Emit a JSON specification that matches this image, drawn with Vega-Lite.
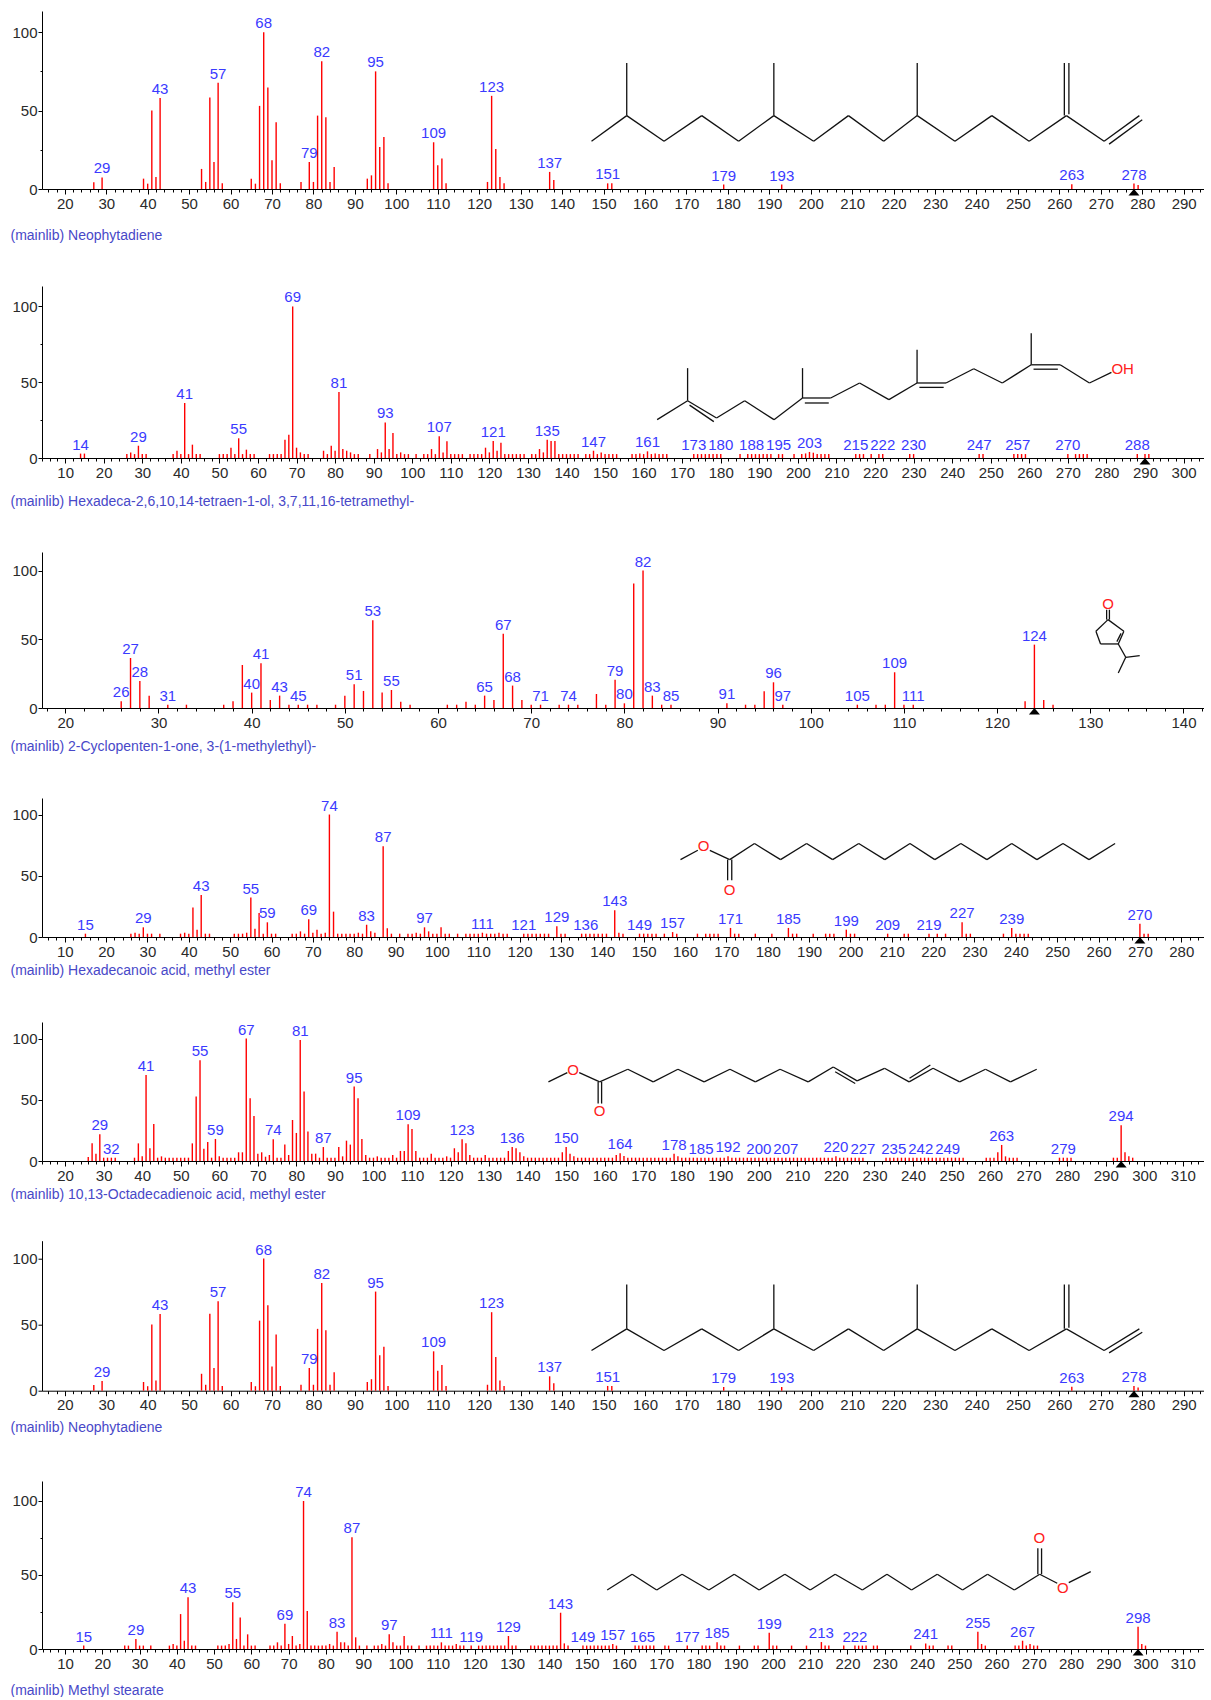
{
"$schema": "https://vega.github.io/schema/vega-lite/v6.json",
"padding": {"left": 10, "top": 11, "right": 0, "bottom": 0},
"datasets": {
"neo": [{"mz":27,"i":4.3},{"mz":29,"i":7.4,"l":1},{"mz":39,"i":6.6},{"mz":40,"i":3.4},{"mz":41,"i":50},{"mz":42,"i":7.7},{"mz":43,"i":58,"l":1},{"mz":53,"i":12.8},{"mz":54,"i":4.5},{"mz":55,"i":58.3},{"mz":56,"i":17.2},{"mz":57,"i":67.7,"l":1},{"mz":58,"i":3.6},{"mz":65,"i":6.6},{"mz":66,"i":3.4},{"mz":67,"i":53},{"mz":68,"i":100,"l":1},{"mz":69,"i":64.7},{"mz":70,"i":18.3},{"mz":71,"i":42.6},{"mz":72,"i":3.6},{"mz":77,"i":4.5},{"mz":79,"i":17.2,"l":1},{"mz":80,"i":4.5},{"mz":81,"i":46.8},{"mz":82,"i":81.5,"l":1},{"mz":83,"i":45.7},{"mz":84,"i":4.5},{"mz":85,"i":14},{"mz":93,"i":6.6},{"mz":94,"i":8.7},{"mz":95,"i":75,"l":1},{"mz":96,"i":26.8},{"mz":97,"i":33.2},{"mz":98,"i":3.6},{"mz":109,"i":29.8,"l":1},{"mz":110,"i":15.1},{"mz":111,"i":19.4},{"mz":112,"i":3.6},{"mz":122,"i":4.5},{"mz":123,"i":59.4,"l":1},{"mz":124,"i":25.5},{"mz":125,"i":7.7},{"mz":126,"i":3.6},{"mz":137,"i":10.9,"l":1},{"mz":138,"i":5.7},{"mz":151,"i":3.6,"l":1},{"mz":152,"i":3.6},{"mz":179,"i":2.8,"l":1},{"mz":193,"i":2.8,"l":1},{"mz":263,"i":3,"l":1},{"mz":278,"i":3.5,"l":1},{"mz":279,"i":2.5}],
"hex": [{"mz":14,"i":2.9,"l":1},{"mz":15,"i":2.9},{"mz":26,"i":2.6},{"mz":27,"i":3.7},{"mz":28,"i":2.6},{"mz":29,"i":8.1,"l":1},{"mz":30,"i":2.6},{"mz":31,"i":2.6},{"mz":38,"i":2.6},{"mz":39,"i":4.8},{"mz":40,"i":2.6},{"mz":41,"i":36.3,"l":1},{"mz":42,"i":2.6},{"mz":43,"i":8.8},{"mz":44,"i":2.6},{"mz":45,"i":2.6},{"mz":50,"i":2.6},{"mz":51,"i":2.6},{"mz":52,"i":2.6},{"mz":53,"i":6.8},{"mz":54,"i":2.6},{"mz":55,"i":13,"l":1},{"mz":56,"i":2.6},{"mz":57,"i":5.5},{"mz":58,"i":2.6},{"mz":59,"i":2.6},{"mz":63,"i":2.6},{"mz":64,"i":2.6},{"mz":65,"i":2.6},{"mz":66,"i":2.6},{"mz":67,"i":12},{"mz":68,"i":15.4},{"mz":69,"i":100,"l":1},{"mz":70,"i":6.8},{"mz":71,"i":3.7},{"mz":72,"i":2.6},{"mz":73,"i":2.6},{"mz":77,"i":4.8},{"mz":78,"i":2.6},{"mz":79,"i":8.1},{"mz":80,"i":4.8},{"mz":81,"i":43.5,"l":1},{"mz":82,"i":5.9},{"mz":83,"i":4.8},{"mz":84,"i":3.7},{"mz":85,"i":2.6},{"mz":86,"i":2.6},{"mz":89,"i":2.6},{"mz":91,"i":5.9},{"mz":92,"i":3.7},{"mz":93,"i":23.5,"l":1},{"mz":94,"i":5.9},{"mz":95,"i":16.5},{"mz":96,"i":2.6},{"mz":97,"i":3.7},{"mz":98,"i":2.6},{"mz":99,"i":2.6},{"mz":101,"i":2.6},{"mz":103,"i":2.6},{"mz":104,"i":2.6},{"mz":105,"i":5.9},{"mz":106,"i":2.6},{"mz":107,"i":14.3,"l":1},{"mz":108,"i":3.7},{"mz":109,"i":11},{"mz":110,"i":2.6},{"mz":111,"i":2.6},{"mz":112,"i":2.6},{"mz":113,"i":2.6},{"mz":115,"i":2.6},{"mz":116,"i":2.6},{"mz":117,"i":2.6},{"mz":118,"i":2.6},{"mz":119,"i":6.8},{"mz":120,"i":3.7},{"mz":121,"i":11.2,"l":1},{"mz":122,"i":4.8},{"mz":123,"i":10.1},{"mz":124,"i":2.6},{"mz":125,"i":2.6},{"mz":126,"i":2.6},{"mz":127,"i":2.6},{"mz":128,"i":2.6},{"mz":129,"i":2.6},{"mz":131,"i":2.6},{"mz":132,"i":2.6},{"mz":133,"i":5.9},{"mz":134,"i":3.7},{"mz":135,"i":12,"l":1},{"mz":136,"i":11.2},{"mz":137,"i":11.2},{"mz":138,"i":2.6},{"mz":139,"i":2.6},{"mz":140,"i":2.6},{"mz":141,"i":2.6},{"mz":142,"i":2.6},{"mz":143,"i":2.6},{"mz":145,"i":2.6},{"mz":146,"i":2.6},{"mz":147,"i":4.8,"l":1},{"mz":148,"i":2.6},{"mz":149,"i":3.7},{"mz":150,"i":2.6},{"mz":151,"i":2.6},{"mz":152,"i":2.6},{"mz":153,"i":2.6},{"mz":157,"i":2.6},{"mz":158,"i":2.6},{"mz":159,"i":3},{"mz":160,"i":2.6},{"mz":161,"i":4.4,"l":1},{"mz":162,"i":2.6},{"mz":163,"i":3},{"mz":164,"i":2.6},{"mz":165,"i":2.6},{"mz":166,"i":2.6},{"mz":173,"i":2.6,"l":1},{"mz":174,"i":2.6},{"mz":175,"i":2.6},{"mz":176,"i":2.6},{"mz":177,"i":2.6},{"mz":178,"i":2.6},{"mz":179,"i":2.6},{"mz":180,"i":2.6,"l":1},{"mz":185,"i":2.6},{"mz":187,"i":2.6},{"mz":188,"i":2.6,"l":1},{"mz":189,"i":2.6},{"mz":190,"i":2.6},{"mz":191,"i":2.6},{"mz":192,"i":2.6},{"mz":193,"i":2.6},{"mz":195,"i":2.6,"l":1},{"mz":196,"i":2.6},{"mz":199,"i":2.6},{"mz":201,"i":2.6},{"mz":202,"i":3},{"mz":203,"i":4,"l":1},{"mz":204,"i":3.5},{"mz":205,"i":2.6},{"mz":206,"i":2.6},{"mz":207,"i":2.6},{"mz":208,"i":2.6},{"mz":215,"i":2.6,"l":1},{"mz":216,"i":2.6},{"mz":217,"i":2.6},{"mz":219,"i":2.6},{"mz":221,"i":2.6},{"mz":222,"i":2.6,"l":1},{"mz":229,"i":2.6},{"mz":230,"i":2.6,"l":1},{"mz":247,"i":2.6,"l":1},{"mz":248,"i":2.6},{"mz":256,"i":2.6},{"mz":257,"i":2.6,"l":1},{"mz":258,"i":2.6},{"mz":259,"i":2.6},{"mz":270,"i":2.6,"l":1},{"mz":272,"i":2.6},{"mz":273,"i":2.6},{"mz":274,"i":2.6},{"mz":275,"i":2.6},{"mz":288,"i":2.6,"l":1},{"mz":290,"i":2.6},{"mz":291,"i":2.6}],
"cyc": [{"mz":26,"i":4.9,"l":1},{"mz":27,"i":36.4,"l":1},{"mz":28,"i":19.7,"l":1},{"mz":29,"i":9},{"mz":31,"i":2.4,"l":1},{"mz":33,"i":2.4},{"mz":37,"i":2.4},{"mz":38,"i":4.9},{"mz":39,"i":31.3},{"mz":40,"i":11.2,"l":1},{"mz":41,"i":32.5,"l":1},{"mz":42,"i":5.8},{"mz":43,"i":9,"l":1},{"mz":44,"i":2.4},{"mz":45,"i":2.4,"l":1},{"mz":46,"i":2.4},{"mz":47,"i":2.4},{"mz":49,"i":2.4},{"mz":50,"i":9},{"mz":51,"i":17.2,"l":1},{"mz":52,"i":12.4},{"mz":53,"i":63.8,"l":1},{"mz":54,"i":11.2},{"mz":55,"i":13.1,"l":1},{"mz":56,"i":4.6},{"mz":57,"i":2.4},{"mz":61,"i":2.4},{"mz":62,"i":2.4},{"mz":63,"i":4.6},{"mz":64,"i":2.4},{"mz":65,"i":9,"l":1},{"mz":66,"i":5.8},{"mz":67,"i":54.1,"l":1},{"mz":68,"i":16.3,"l":1},{"mz":69,"i":5.8},{"mz":70,"i":2.4},{"mz":71,"i":2.4,"l":1},{"mz":73,"i":2.4},{"mz":74,"i":2.4,"l":1},{"mz":75,"i":2.4},{"mz":77,"i":10.2},{"mz":78,"i":2.4},{"mz":79,"i":20.6,"l":1},{"mz":80,"i":3.4,"l":1},{"mz":81,"i":90.5},{"mz":82,"i":100,"l":1},{"mz":83,"i":9,"l":1},{"mz":84,"i":2.4},{"mz":85,"i":2.4,"l":1},{"mz":91,"i":3.4,"l":1},{"mz":93,"i":2.4},{"mz":94,"i":2.4},{"mz":95,"i":12.1},{"mz":96,"i":18.7,"l":1},{"mz":97,"i":2.4,"l":1},{"mz":105,"i":2.4,"l":1},{"mz":107,"i":2.4},{"mz":108,"i":2.4},{"mz":109,"i":26,"l":1},{"mz":110,"i":2.4},{"mz":111,"i":2.4,"l":1},{"mz":123,"i":4.9},{"mz":124,"i":46.1,"l":1},{"mz":125,"i":5.8},{"mz":126,"i":2.4}],
"pal": [{"mz":15,"i":2.7,"l":1},{"mz":26,"i":2.7},{"mz":27,"i":3.5},{"mz":28,"i":2.7},{"mz":29,"i":7.9,"l":1},{"mz":30,"i":2.7},{"mz":31,"i":2.7},{"mz":33,"i":2.7},{"mz":38,"i":2.7},{"mz":39,"i":3.5},{"mz":40,"i":2.7},{"mz":41,"i":24},{"mz":42,"i":6},{"mz":43,"i":34.3,"l":1},{"mz":44,"i":2.7},{"mz":45,"i":2.7},{"mz":51,"i":2.7},{"mz":52,"i":2.7},{"mz":53,"i":2.7},{"mz":54,"i":3.5},{"mz":55,"i":32.2,"l":1},{"mz":56,"i":6.8},{"mz":57,"i":19.6},{"mz":58,"i":2.7},{"mz":59,"i":12,"l":1},{"mz":60,"i":2.7},{"mz":61,"i":2.7},{"mz":65,"i":2.7},{"mz":66,"i":2.7},{"mz":67,"i":4.6},{"mz":68,"i":2.7},{"mz":69,"i":14.4,"l":1},{"mz":70,"i":3.5},{"mz":71,"i":6},{"mz":72,"i":2.7},{"mz":73,"i":3.5},{"mz":74,"i":100,"l":1},{"mz":75,"i":20.7},{"mz":76,"i":2.7},{"mz":77,"i":2.7},{"mz":78,"i":2.7},{"mz":79,"i":2.7},{"mz":80,"i":2.7},{"mz":81,"i":3.5},{"mz":82,"i":2.7},{"mz":83,"i":10,"l":1},{"mz":84,"i":4.6},{"mz":85,"i":3.5},{"mz":87,"i":74.1,"l":1},{"mz":88,"i":7.1},{"mz":89,"i":2.7},{"mz":91,"i":2.7},{"mz":93,"i":2.7},{"mz":94,"i":2.7},{"mz":95,"i":3.5},{"mz":96,"i":2.7},{"mz":97,"i":7.9,"l":1},{"mz":98,"i":4.6},{"mz":99,"i":2.7},{"mz":100,"i":2.7},{"mz":101,"i":7.9},{"mz":102,"i":2.7},{"mz":103,"i":2.7},{"mz":105,"i":2.7},{"mz":107,"i":2.7},{"mz":108,"i":2.7},{"mz":109,"i":2.7},{"mz":110,"i":2.7},{"mz":111,"i":3.5,"l":1},{"mz":112,"i":2.7},{"mz":113,"i":2.7},{"mz":114,"i":2.7},{"mz":115,"i":3.5},{"mz":116,"i":2.7},{"mz":117,"i":2.7},{"mz":121,"i":2.7,"l":1},{"mz":122,"i":2.7},{"mz":123,"i":2.7},{"mz":124,"i":2.7},{"mz":125,"i":2.7},{"mz":126,"i":2.7},{"mz":127,"i":2.7},{"mz":129,"i":8.7,"l":1},{"mz":130,"i":2.7},{"mz":131,"i":2.7},{"mz":135,"i":2.7},{"mz":136,"i":2.7,"l":1},{"mz":137,"i":2.7},{"mz":138,"i":2.7},{"mz":139,"i":2.7},{"mz":140,"i":2.7},{"mz":141,"i":2.7},{"mz":143,"i":21.8,"l":1},{"mz":144,"i":3.5},{"mz":145,"i":2.7},{"mz":149,"i":2.7,"l":1},{"mz":150,"i":2.7},{"mz":151,"i":2.7},{"mz":152,"i":2.7},{"mz":153,"i":2.7},{"mz":155,"i":2.7},{"mz":157,"i":4,"l":1},{"mz":158,"i":2.7},{"mz":163,"i":2.7},{"mz":165,"i":2.7},{"mz":166,"i":2.7},{"mz":167,"i":2.7},{"mz":168,"i":2.7},{"mz":171,"i":7.4,"l":1},{"mz":172,"i":2.7},{"mz":173,"i":2.7},{"mz":177,"i":2.7},{"mz":181,"i":2.7},{"mz":185,"i":7.4,"l":1},{"mz":186,"i":2.7},{"mz":187,"i":2.7},{"mz":191,"i":2.7},{"mz":194,"i":2.7},{"mz":195,"i":2.7},{"mz":196,"i":2.7},{"mz":199,"i":6,"l":1},{"mz":200,"i":2.7},{"mz":201,"i":2.7},{"mz":209,"i":2.7,"l":1},{"mz":213,"i":2.7},{"mz":214,"i":2.7},{"mz":219,"i":2.7,"l":1},{"mz":221,"i":2.7},{"mz":223,"i":2.7},{"mz":227,"i":12,"l":1},{"mz":228,"i":2.7},{"mz":229,"i":2.7},{"mz":237,"i":2.7},{"mz":239,"i":7.4,"l":1},{"mz":240,"i":2.7},{"mz":241,"i":2.7},{"mz":242,"i":2.7},{"mz":243,"i":2.7},{"mz":270,"i":10.9,"l":1},{"mz":271,"i":2.7},{"mz":272,"i":2.7}],
"lin": [{"mz":26,"i":3.3},{"mz":27,"i":14.4},{"mz":28,"i":6},{"mz":29,"i":21.8,"l":1},{"mz":30,"i":2.7},{"mz":31,"i":2.7},{"mz":32,"i":2.7,"l":1},{"mz":33,"i":2.7},{"mz":38,"i":2.7},{"mz":39,"i":14.4},{"mz":40,"i":3.8},{"mz":41,"i":70.3,"l":1},{"mz":42,"i":10.4},{"mz":43,"i":30.2},{"mz":44,"i":2.7},{"mz":45,"i":3.8},{"mz":46,"i":2.7},{"mz":47,"i":2.7},{"mz":48,"i":2.7},{"mz":49,"i":2.7},{"mz":50,"i":2.7},{"mz":51,"i":2.7},{"mz":52,"i":2.7},{"mz":53,"i":14.4},{"mz":54,"i":52.6},{"mz":55,"i":82.3,"l":1},{"mz":56,"i":10.1},{"mz":57,"i":15.5},{"mz":58,"i":2.7},{"mz":59,"i":18,"l":1},{"mz":60,"i":3.8},{"mz":61,"i":2.7},{"mz":62,"i":2.7},{"mz":63,"i":2.7},{"mz":64,"i":2.7},{"mz":65,"i":7.1},{"mz":66,"i":7.1},{"mz":67,"i":100,"l":1},{"mz":68,"i":51.2},{"mz":69,"i":36.8},{"mz":70,"i":6},{"mz":71,"i":7.1},{"mz":72,"i":3.5},{"mz":73,"i":4.9},{"mz":74,"i":17.7,"l":1},{"mz":75,"i":2.7},{"mz":76,"i":2.7},{"mz":77,"i":13.4},{"mz":78,"i":4.9},{"mz":79,"i":33.5},{"mz":80,"i":22.9},{"mz":81,"i":98.9,"l":1},{"mz":82,"i":56.7},{"mz":83,"i":24},{"mz":84,"i":6},{"mz":85,"i":6},{"mz":86,"i":2.7},{"mz":87,"i":11.4,"l":1},{"mz":88,"i":2.7},{"mz":89,"i":2.7},{"mz":90,"i":2.7},{"mz":91,"i":11.4},{"mz":92,"i":3.8},{"mz":93,"i":16.6},{"mz":94,"i":13.4},{"mz":95,"i":60.8,"l":1},{"mz":96,"i":51.2},{"mz":97,"i":18},{"mz":98,"i":4.9},{"mz":99,"i":2.7},{"mz":100,"i":2.7},{"mz":101,"i":3.8},{"mz":102,"i":2.7},{"mz":103,"i":2.7},{"mz":104,"i":2.7},{"mz":105,"i":4.9},{"mz":106,"i":2.7},{"mz":107,"i":8.2},{"mz":108,"i":8.2},{"mz":109,"i":30,"l":1},{"mz":110,"i":26.2},{"mz":111,"i":8.2},{"mz":112,"i":2.7},{"mz":113,"i":2.7},{"mz":114,"i":2.7},{"mz":115,"i":6},{"mz":116,"i":2.7},{"mz":117,"i":2.7},{"mz":118,"i":2.7},{"mz":119,"i":3.8},{"mz":120,"i":2.7},{"mz":121,"i":10.4},{"mz":122,"i":7.1},{"mz":123,"i":17.7,"l":1},{"mz":124,"i":14.4},{"mz":125,"i":4.9},{"mz":126,"i":2.7},{"mz":127,"i":2.7},{"mz":128,"i":2.7},{"mz":129,"i":4.9},{"mz":130,"i":2.7},{"mz":131,"i":2.7},{"mz":132,"i":2.7},{"mz":133,"i":2.7},{"mz":134,"i":2.7},{"mz":135,"i":8.2},{"mz":136,"i":11.4,"l":1},{"mz":137,"i":10.4},{"mz":138,"i":7.1},{"mz":139,"i":3.8},{"mz":140,"i":2.7},{"mz":141,"i":2.7},{"mz":142,"i":2.7},{"mz":143,"i":2.7},{"mz":144,"i":2.7},{"mz":145,"i":2.7},{"mz":146,"i":2.7},{"mz":147,"i":2.7},{"mz":148,"i":2.7},{"mz":149,"i":7.1},{"mz":150,"i":11.4,"l":1},{"mz":151,"i":6},{"mz":152,"i":3.8},{"mz":153,"i":2.7},{"mz":154,"i":2.7},{"mz":155,"i":2.7},{"mz":156,"i":2.7},{"mz":157,"i":2.7},{"mz":158,"i":2.7},{"mz":159,"i":2.7},{"mz":160,"i":2.7},{"mz":161,"i":2.7},{"mz":162,"i":2.7},{"mz":163,"i":4.9},{"mz":164,"i":6.3,"l":1},{"mz":165,"i":4},{"mz":166,"i":2.7},{"mz":167,"i":2.7},{"mz":168,"i":2.7},{"mz":169,"i":2.7},{"mz":170,"i":2.7},{"mz":171,"i":2.7},{"mz":172,"i":2.7},{"mz":173,"i":2.7},{"mz":174,"i":2.7},{"mz":175,"i":2.7},{"mz":176,"i":2.7},{"mz":177,"i":2.7},{"mz":178,"i":6,"l":1},{"mz":179,"i":3.8},{"mz":180,"i":2.7},{"mz":181,"i":2.7},{"mz":182,"i":2.7},{"mz":183,"i":2.7},{"mz":184,"i":2.7},{"mz":185,"i":2.7,"l":1},{"mz":186,"i":2.7},{"mz":187,"i":2.7},{"mz":188,"i":2.7},{"mz":189,"i":2.7},{"mz":190,"i":2.7},{"mz":191,"i":2.7},{"mz":192,"i":3.8,"l":1},{"mz":193,"i":2.7},{"mz":194,"i":2.7},{"mz":195,"i":2.7},{"mz":196,"i":2.7},{"mz":197,"i":2.7},{"mz":198,"i":2.7},{"mz":199,"i":2.7},{"mz":200,"i":2.7,"l":1},{"mz":201,"i":2.7},{"mz":202,"i":2.7},{"mz":203,"i":2.7},{"mz":204,"i":2.7},{"mz":205,"i":2.7},{"mz":206,"i":2.7},{"mz":207,"i":2.7,"l":1},{"mz":208,"i":2.7},{"mz":209,"i":2.7},{"mz":210,"i":2.7},{"mz":211,"i":2.7},{"mz":212,"i":2.7},{"mz":213,"i":2.7},{"mz":214,"i":2.7},{"mz":215,"i":2.7},{"mz":216,"i":2.7},{"mz":217,"i":2.7},{"mz":218,"i":2.7},{"mz":219,"i":2.7},{"mz":220,"i":3.8,"l":1},{"mz":221,"i":2.7},{"mz":222,"i":2.7},{"mz":223,"i":2.7},{"mz":224,"i":2.7},{"mz":225,"i":2.7},{"mz":226,"i":2.7},{"mz":227,"i":2.7,"l":1},{"mz":233,"i":2.7},{"mz":234,"i":2.7},{"mz":235,"i":2.7,"l":1},{"mz":236,"i":2.7},{"mz":237,"i":2.7},{"mz":238,"i":2.7},{"mz":239,"i":2.7},{"mz":240,"i":2.7},{"mz":241,"i":2.7},{"mz":242,"i":2.7,"l":1},{"mz":243,"i":2.7},{"mz":244,"i":2.7},{"mz":245,"i":2.7},{"mz":246,"i":2.7},{"mz":247,"i":2.7},{"mz":248,"i":2.7},{"mz":249,"i":2.7,"l":1},{"mz":250,"i":2.7},{"mz":251,"i":2.7},{"mz":252,"i":2.7},{"mz":253,"i":2.7},{"mz":259,"i":2.7},{"mz":260,"i":2.7},{"mz":261,"i":2.7},{"mz":262,"i":7.1},{"mz":263,"i":13.1,"l":1},{"mz":264,"i":3.8},{"mz":265,"i":2.7},{"mz":266,"i":2.7},{"mz":267,"i":2.7},{"mz":278,"i":2.7},{"mz":279,"i":2.7,"l":1},{"mz":280,"i":2.7},{"mz":281,"i":2.7},{"mz":292,"i":2.7},{"mz":293,"i":2.7},{"mz":294,"i":29.2,"l":1},{"mz":295,"i":7.1},{"mz":296,"i":3.8},{"mz":297,"i":2.7}],
"ste": [{"mz":15,"i":2.3,"l":1},{"mz":26,"i":2.3},{"mz":27,"i":2.3},{"mz":29,"i":6.8,"l":1},{"mz":30,"i":2.3},{"mz":31,"i":2.3},{"mz":33,"i":2.3},{"mz":38,"i":2.3},{"mz":39,"i":3.4},{"mz":40,"i":2.3},{"mz":41,"i":23.6},{"mz":42,"i":5.6},{"mz":43,"i":34.9,"l":1},{"mz":44,"i":2.3},{"mz":45,"i":2.3},{"mz":51,"i":2.3},{"mz":52,"i":2.3},{"mz":53,"i":2.3},{"mz":54,"i":3.4},{"mz":55,"i":31.5,"l":1},{"mz":56,"i":6.8},{"mz":57,"i":21.2},{"mz":58,"i":2.3},{"mz":59,"i":9.9},{"mz":60,"i":2.3},{"mz":61,"i":2.3},{"mz":65,"i":2.3},{"mz":66,"i":2.3},{"mz":67,"i":4.5},{"mz":68,"i":2.3},{"mz":69,"i":17.1,"l":1},{"mz":70,"i":3.4},{"mz":71,"i":8.8},{"mz":72,"i":2.3},{"mz":73,"i":3.4},{"mz":74,"i":100,"l":1},{"mz":75,"i":25.7},{"mz":76,"i":2.3},{"mz":77,"i":2.3},{"mz":78,"i":2.3},{"mz":79,"i":2.3},{"mz":80,"i":2.3},{"mz":81,"i":3.4},{"mz":82,"i":2.3},{"mz":83,"i":11.7,"l":1},{"mz":84,"i":4.5},{"mz":85,"i":4.5},{"mz":86,"i":2.3},{"mz":87,"i":75.5,"l":1},{"mz":88,"i":7.9},{"mz":89,"i":2.3},{"mz":91,"i":2.3},{"mz":93,"i":2.3},{"mz":94,"i":2.3},{"mz":95,"i":3.4},{"mz":96,"i":2.3},{"mz":97,"i":9.9,"l":1},{"mz":98,"i":4.5},{"mz":99,"i":2.3},{"mz":100,"i":2.3},{"mz":101,"i":8.8},{"mz":102,"i":2.3},{"mz":103,"i":2.3},{"mz":105,"i":2.3},{"mz":107,"i":2.3},{"mz":108,"i":2.3},{"mz":109,"i":2.3},{"mz":110,"i":2.3},{"mz":111,"i":4.5,"l":1},{"mz":112,"i":2.3},{"mz":113,"i":2.3},{"mz":114,"i":2.3},{"mz":115,"i":3.4},{"mz":116,"i":2.3},{"mz":117,"i":2.3},{"mz":119,"i":2.3,"l":1},{"mz":121,"i":2.3},{"mz":122,"i":2.3},{"mz":123,"i":2.3},{"mz":124,"i":2.3},{"mz":125,"i":2.3},{"mz":126,"i":2.3},{"mz":127,"i":2.3},{"mz":128,"i":2.3},{"mz":129,"i":8.8,"l":1},{"mz":130,"i":2.3},{"mz":131,"i":2.3},{"mz":135,"i":2.3},{"mz":136,"i":2.3},{"mz":137,"i":2.3},{"mz":138,"i":2.3},{"mz":139,"i":2.3},{"mz":140,"i":2.3},{"mz":141,"i":2.3},{"mz":142,"i":2.3},{"mz":143,"i":24.5,"l":1},{"mz":144,"i":3.8},{"mz":145,"i":2.3},{"mz":149,"i":2.3,"l":1},{"mz":150,"i":2.3},{"mz":151,"i":2.3},{"mz":152,"i":2.3},{"mz":153,"i":2.3},{"mz":154,"i":2.3},{"mz":155,"i":2.3},{"mz":156,"i":2.3},{"mz":157,"i":3.4,"l":1},{"mz":158,"i":2.3},{"mz":163,"i":2.3},{"mz":164,"i":2.3},{"mz":165,"i":2.3,"l":1},{"mz":166,"i":2.3},{"mz":167,"i":2.3},{"mz":168,"i":2.3},{"mz":171,"i":2.3},{"mz":172,"i":2.3},{"mz":177,"i":2.3,"l":1},{"mz":181,"i":2.3},{"mz":182,"i":2.3},{"mz":183,"i":2.3},{"mz":185,"i":4.5,"l":1},{"mz":186,"i":2.3},{"mz":187,"i":2.3},{"mz":191,"i":2.3},{"mz":195,"i":2.3},{"mz":196,"i":2.3},{"mz":199,"i":11,"l":1},{"mz":200,"i":2.3},{"mz":201,"i":2.3},{"mz":205,"i":2.3},{"mz":209,"i":2.3},{"mz":213,"i":4.7,"l":1},{"mz":214,"i":2.3},{"mz":215,"i":2.3},{"mz":219,"i":2.3},{"mz":222,"i":2.3,"l":1},{"mz":223,"i":2.3},{"mz":224,"i":2.3},{"mz":225,"i":2.3},{"mz":227,"i":2.3},{"mz":228,"i":2.3},{"mz":237,"i":2.3},{"mz":241,"i":3.8,"l":1},{"mz":242,"i":2.3},{"mz":243,"i":2.3},{"mz":247,"i":2.3},{"mz":248,"i":2.3},{"mz":255,"i":11.7,"l":1},{"mz":256,"i":3.4},{"mz":257,"i":2.3},{"mz":265,"i":2.3},{"mz":266,"i":2.3},{"mz":267,"i":5.6,"l":1},{"mz":268,"i":2.3},{"mz":269,"i":3.4},{"mz":270,"i":2.3},{"mz":271,"i":2.3},{"mz":298,"i":15.1,"l":1},{"mz":299,"i":3.4},{"mz":300,"i":2.3}],
"s_neo": [{"x":147.1,"y":30.4,"x2":155.6,"y2":46.8},{"x":155.6,"y":46.8,"x2":164.6,"y2":30.4},{"x":164.6,"y":30.4,"x2":173.7,"y2":46.8},{"x":173.7,"y":46.8,"x2":182.6,"y2":30.4},{"x":182.6,"y":30.4,"x2":191.1,"y2":46.8},{"x":191.1,"y":46.8,"x2":200.7,"y2":30.4},{"x":200.7,"y":30.4,"x2":209.1,"y2":46.8},{"x":209.1,"y":46.8,"x2":217.6,"y2":30.4},{"x":217.6,"y":30.4,"x2":225.7,"y2":46.8},{"x":225.7,"y":46.8,"x2":234.8,"y2":30.4},{"x":234.8,"y":30.4,"x2":243.7,"y2":46.8},{"x":243.7,"y":46.8,"x2":252.7,"y2":30.4},{"x":252.7,"y":30.4,"x2":261.7,"y2":46.8},{"x":261.7,"y":46.8,"x2":270.8,"y2":30.4},{"x":155.6,"y":46.8,"x2":155.6,"y2":80.4},{"x":191.1,"y":46.8,"x2":191.1,"y2":80.4},{"x":225.7,"y":46.8,"x2":225.7,"y2":80.4},{"x":261.2,"y":46.8,"x2":261.2,"y2":80.4},{"x":262.3,"y":47.6,"x2":262.3,"y2":80.4},{"x":270.8,"y":30.4,"x2":279.3,"y2":46.8},{"x":272.0,"y":28.6,"x2":280.0,"y2":44.2}],
"s_hex": [{"x":163.5,"y":25.3,"x2":171.4,"y2":37.8},{"x":171.4,"y":37.8,"x2":171.4,"y2":59.3},{"x":171.4,"y":37.8,"x2":178.9,"y2":26.4},{"x":171.9,"y":34.9,"x2":178.2,"y2":24.0},{"x":178.9,"y":26.4,"x2":186.2,"y2":37.8},{"x":186.2,"y":37.8,"x2":193.8,"y2":25.3},{"x":193.8,"y":25.3,"x2":201.2,"y2":39.6},{"x":201.2,"y":39.6,"x2":201.2,"y2":59.3},{"x":201.2,"y":39.6,"x2":208.5,"y2":39.6},{"x":201.8,"y":36.3,"x2":208.0,"y2":36.3},{"x":208.5,"y":39.6,"x2":216.0,"y2":49.5},{"x":216.0,"y":49.5,"x2":223.6,"y2":38.5},{"x":223.6,"y":38.5,"x2":230.9,"y2":49.5},{"x":230.9,"y":49.5,"x2":230.9,"y2":71.4},{"x":230.9,"y":49.5,"x2":238.4,"y2":49.5},{"x":231.5,"y":46.6,"x2":237.8,"y2":46.6},{"x":238.4,"y":49.5,"x2":245.6,"y2":58.9},{"x":245.6,"y":58.9,"x2":253.0,"y2":49.5},{"x":253.0,"y":49.5,"x2":260.5,"y2":61.5},{"x":260.5,"y":61.5,"x2":260.5,"y2":82.4},{"x":260.5,"y":61.5,"x2":268.0,"y2":61.5},{"x":261.1,"y":58.6,"x2":267.4,"y2":58.6},{"x":268.0,"y":61.5,"x2":275.6,"y2":49.5},{"x":275.6,"y":49.5,"x2":281.3,"y2":56.5}],
"s_cyc": [{"x":131.75,"y":64.3,"x2":131.75,"y2":71.5},{"x":132.05,"y":64.3,"x2":132.05,"y2":71.5},{"x":131.9,"y":64.3,"x2":130.6,"y2":55.8},{"x":130.6,"y":55.8,"x2":131.1,"y2":46.6},{"x":131.1,"y":46.6,"x2":133.0,"y2":46.6},{"x":133.0,"y":46.6,"x2":133.6,"y2":55.8},{"x":133.6,"y":55.8,"x2":131.9,"y2":64.3},{"x":133.3,"y":54.3,"x2":132.85,"y2":48.3},{"x":133.0,"y":46.6,"x2":133.8,"y2":36.9},{"x":133.8,"y":36.9,"x2":135.3,"y2":38.1},{"x":133.8,"y":36.9,"x2":133.0,"y2":25.5}],
"s_pal": [{"x":158.9,"y":63.2,"x2":163.1,"y2":70.8},{"x":166.0,"y":70.8,"x2":170.8,"y2":63.2},{"x":170.3,"y":63.2,"x2":170.3,"y2":46.3},{"x":171.3,"y":63.2,"x2":171.3,"y2":46.3},{"x":170.8,"y":63.2,"x2":176.8,"y2":76.3},{"x":176.8,"y":76.3,"x2":183.1,"y2":63.2},{"x":183.1,"y":63.2,"x2":189.4,"y2":76.3},{"x":189.4,"y":76.3,"x2":195.7,"y2":63.2},{"x":195.7,"y":63.2,"x2":202.0,"y2":76.3},{"x":202.0,"y":76.3,"x2":208.3,"y2":63.2},{"x":208.3,"y":63.2,"x2":214.4,"y2":76.3},{"x":214.4,"y":76.3,"x2":220.4,"y2":63.2},{"x":220.4,"y":63.2,"x2":226.7,"y2":76.3},{"x":226.7,"y":76.3,"x2":233.0,"y2":63.2},{"x":233.0,"y":63.2,"x2":239.0,"y2":76.3},{"x":239.0,"y":76.3,"x2":245.1,"y2":63.2},{"x":245.1,"y":63.2,"x2":251.4,"y2":76.3},{"x":251.4,"y":76.3,"x2":257.7,"y2":63.2},{"x":257.7,"y":63.2,"x2":264.0,"y2":76.3}],
"s_lin": [{"x":145.4,"y":64.6,"x2":150.3,"y2":72.2},{"x":153.4,"y":72.2,"x2":158.7,"y2":64.6},{"x":158.3,"y":64.6,"x2":158.3,"y2":46.9},{"x":159.2,"y":64.6,"x2":159.2,"y2":46.9},{"x":158.7,"y":64.6,"x2":166.0,"y2":74.9},{"x":166.0,"y":74.9,"x2":172.6,"y2":64.6},{"x":172.6,"y":64.6,"x2":179.0,"y2":74.9},{"x":179.0,"y":74.9,"x2":185.8,"y2":64.6},{"x":185.8,"y":64.6,"x2":192.5,"y2":74.9},{"x":192.5,"y":74.9,"x2":199.1,"y2":64.6},{"x":199.1,"y":64.6,"x2":205.5,"y2":74.9},{"x":205.5,"y":74.9,"x2":212.8,"y2":64.6},{"x":212.8,"y":64.6,"x2":219.3,"y2":76.8},{"x":219.3,"y":76.8,"x2":225.5,"y2":65.4},{"x":219.8,"y":72.9,"x2":225.0,"y2":63.3},{"x":225.5,"y":65.4,"x2":232.6,"y2":75.7},{"x":232.6,"y":75.7,"x2":239.0,"y2":64.6},{"x":239.0,"y":64.6,"x2":245.2,"y2":75.7},{"x":239.1,"y":67.6,"x2":244.5,"y2":78.4},{"x":245.2,"y":75.7,"x2":252.1,"y2":64.6},{"x":252.1,"y":64.6,"x2":258.8,"y2":74.9},{"x":258.8,"y":74.9,"x2":265.3,"y2":64.6},{"x":265.3,"y":64.6,"x2":272.1,"y2":74.9}],
"s_ste": [{"x":155.5,"y":39.9,"x2":162.2,"y2":50.5},{"x":162.2,"y":50.5,"x2":168.8,"y2":39.9},{"x":168.8,"y":39.9,"x2":175.6,"y2":50.5},{"x":175.6,"y":50.5,"x2":182.8,"y2":39.9},{"x":182.8,"y":39.9,"x2":189.6,"y2":50.5},{"x":189.6,"y":50.5,"x2":196.3,"y2":39.9},{"x":196.3,"y":39.9,"x2":203.2,"y2":50.5},{"x":203.2,"y":50.5,"x2":210.0,"y2":39.9},{"x":210.0,"y":39.9,"x2":216.7,"y2":50.5},{"x":216.7,"y":50.5,"x2":224.0,"y2":39.9},{"x":224.0,"y":39.9,"x2":230.6,"y2":50.5},{"x":230.6,"y":50.5,"x2":237.2,"y2":39.9},{"x":237.2,"y":39.9,"x2":244.1,"y2":50.5},{"x":244.1,"y":50.5,"x2":250.9,"y2":39.9},{"x":250.9,"y":39.9,"x2":257.6,"y2":50.5},{"x":257.6,"y":50.5,"x2":264.8,"y2":39.9},{"x":264.8,"y":39.9,"x2":271.6,"y2":50.5},{"x":271.1,"y":50.5,"x2":271.1,"y2":68.0},{"x":272.1,"y":50.5,"x2":272.1,"y2":68.0},{"x":271.6,"y":50.5,"x2":276.3,"y2":44.4},{"x":279.4,"y":44.8,"x2":285.3,"y2":52.3}]
},
"spacing": 38.7,
"vconcat": [
{"spacing": 44, "vconcat": [
{"width": 1162, "height": 178, "layer": [
 {"data": {"name": "neo"}, "mark": {"type": "rule", "color": "#ff0000", "strokeWidth": 1.4},
  "encoding": {"x": {"field": "mz", "type": "quantitative", "scale": {"domain": [14.5, 294.9], "nice": false, "zero": false},
     "axis": {"title": "(mainlib) Neophytadiene", "tickCount": 140, "labelExpr": "datum.value % 10 === 0 ? datum.label : ''", "labelOverlap": false, "labelFlush": false, "tickSize": {"condition": {"test": "datum.value % 10 === 0", "value": 5}, "value": 3}, "labelPadding": 2, "titleX": -32, "titleY": 46, "titleAlign": "left", "titleBaseline": "middle"}},
   "y": {"field": "i", "type": "quantitative", "scale": {"domain": [0, 113.5], "nice": false},
     "axis": {"title": null, "values": [0, 25, 50, 75, 100], "labelExpr": "datum.value % 50 === 0 ? datum.label : ''", "tickSize": {"condition": {"test": "datum.value % 50 === 0", "value": 4}, "value": 2}, "labelPadding": 1}},
   "y2": {"datum": 0}}},
 {"data": {"name": "neo"}, "transform": [{"filter": "datum.l === 1"}], "mark": {"type": "text", "baseline": "bottom", "dy": -1, "color": "#3a3aff", "fontSize": 15},
  "encoding": {"x": {"field": "mz", "type": "quantitative"}, "y": {"field": "i", "type": "quantitative"}, "text": {"field": "mz", "type": "quantitative", "format": "d"}}},
 {"data": {"name": "s_neo"}, "mark": {"type": "rule", "color": "#111111", "strokeWidth": 1.3},
  "encoding": {"x": {"field": "x", "type": "quantitative"}, "x2": {"field": "x2"}, "y": {"field": "y", "type": "quantitative"}, "y2": {"field": "y2"}}},
 {"data": {"values": [{"mz": 278}]}, "mark": {"type": "point", "shape": "M0,0L-1,1.2L1,1.2Z", "filled": true, "color": "#000000", "size": 121, "opacity": 1},
  "encoding": {"x": {"field": "mz", "type": "quantitative"}, "y": {"datum": 0}}}
]},
{"width": 1162, "height": 172, "layer": [
 {"data": {"name": "hex"}, "mark": {"type": "rule", "color": "#ff0000", "strokeWidth": 1.4},
  "encoding": {"x": {"field": "mz", "type": "quantitative", "scale": {"domain": [4.0, 305.3], "nice": false, "zero": false},
     "axis": {"title": "(mainlib) Hexadeca-2,6,10,14-tetraen-1-ol, 3,7,11,16-tetramethyl-", "tickCount": 150, "labelExpr": "datum.value % 10 === 0 ? datum.label : ''", "labelOverlap": false, "labelFlush": false, "tickSize": {"condition": {"test": "datum.value % 10 === 0", "value": 5}, "value": 3}, "labelPadding": 2, "titleX": -32, "titleY": 43, "titleAlign": "left", "titleBaseline": "middle"}},
   "y": {"field": "i", "type": "quantitative", "scale": {"domain": [0, 113.5], "nice": false},
     "axis": {"title": null, "values": [0, 25, 50, 75, 100], "labelExpr": "datum.value % 50 === 0 ? datum.label : ''", "tickSize": {"condition": {"test": "datum.value % 50 === 0", "value": 4}, "value": 2}, "labelPadding": 1}},
   "y2": {"datum": 0}}},
 {"data": {"name": "hex"}, "transform": [{"filter": "datum.l === 1"}], "mark": {"type": "text", "baseline": "bottom", "dy": -1, "color": "#3a3aff", "fontSize": 15},
  "encoding": {"x": {"field": "mz", "type": "quantitative"}, "y": {"field": "i", "type": "quantitative"}, "text": {"field": "mz", "type": "quantitative", "format": "d"}}},
 {"data": {"name": "s_hex"}, "mark": {"type": "rule", "color": "#111111", "strokeWidth": 1.3},
  "encoding": {"x": {"field": "x", "type": "quantitative"}, "x2": {"field": "x2"}, "y": {"field": "y", "type": "quantitative"}, "y2": {"field": "y2"}}},
 {"data": {"values": [{"x": 284.2, "y": 58.7, "t": "OH"}]}, "mark": {"type": "text", "color": "#ff2020", "fontSize": 15, "baseline": "middle", "align": "center"},
  "encoding": {"x": {"field": "x", "type": "quantitative"}, "y": {"field": "y", "type": "quantitative"}, "text": {"field": "t"}}},
 {"data": {"values": [{"mz": 290}]}, "mark": {"type": "point", "shape": "M0,0L-1,1.2L1,1.2Z", "filled": true, "color": "#000000", "size": 121, "opacity": 1},
  "encoding": {"x": {"field": "mz", "type": "quantitative"}, "y": {"datum": 0}}}
]},
{"width": 1162, "height": 156, "layer": [
 {"data": {"name": "cyc"}, "mark": {"type": "rule", "color": "#ff0000", "strokeWidth": 1.4},
  "encoding": {"x": {"field": "mz", "type": "quantitative", "scale": {"domain": [17.5, 142.2], "nice": false, "zero": false},
     "axis": {"title": "(mainlib) 2-Cyclopenten-1-one, 3-(1-methylethyl)-", "tickCount": 62, "labelExpr": "datum.value % 10 === 0 ? datum.label : ''", "labelOverlap": false, "labelFlush": false, "tickSize": {"condition": {"test": "datum.value % 10 === 0", "value": 5}, "value": 3}, "labelPadding": 2, "titleX": -32, "titleY": 38.4, "titleAlign": "left", "titleBaseline": "middle"}},
   "y": {"field": "i", "type": "quantitative", "scale": {"domain": [0, 113.5], "nice": false},
     "axis": {"title": null, "values": [0, 25, 50, 75, 100], "labelExpr": "datum.value % 50 === 0 ? datum.label : ''", "tickSize": {"condition": {"test": "datum.value % 50 === 0", "value": 4}, "value": 2}, "labelPadding": 1}},
   "y2": {"datum": 0}}},
 {"data": {"name": "cyc"}, "transform": [{"filter": "datum.l === 1"}], "mark": {"type": "text", "baseline": "bottom", "dy": -1, "color": "#3a3aff", "fontSize": 15},
  "encoding": {"x": {"field": "mz", "type": "quantitative"}, "y": {"field": "i", "type": "quantitative"}, "text": {"field": "mz", "type": "quantitative", "format": "d"}}},
 {"data": {"name": "s_cyc"}, "mark": {"type": "rule", "color": "#111111", "strokeWidth": 1.3},
  "encoding": {"x": {"field": "x", "type": "quantitative"}, "x2": {"field": "x2"}, "y": {"field": "y", "type": "quantitative"}, "y2": {"field": "y2"}}},
 {"data": {"values": [{"x": 131.9, "y": 76, "t": "O"}]}, "mark": {"type": "text", "color": "#ff2020", "fontSize": 15, "baseline": "middle", "align": "center"},
  "encoding": {"x": {"field": "x", "type": "quantitative"}, "y": {"field": "y", "type": "quantitative"}, "text": {"field": "t"}}},
 {"data": {"values": [{"mz": 124}]}, "mark": {"type": "point", "shape": "M0,0L-1,1.2L1,1.2Z", "filled": true, "color": "#000000", "size": 121, "opacity": 1},
  "encoding": {"x": {"field": "mz", "type": "quantitative"}, "y": {"datum": 0}}}
]},
{"width": 1162, "height": 139, "layer": [
 {"data": {"name": "pal"}, "mark": {"type": "rule", "color": "#ff0000", "strokeWidth": 1.4},
  "encoding": {"x": {"field": "mz", "type": "quantitative", "scale": {"domain": [4.5, 285.5], "nice": false, "zero": false},
     "axis": {"title": "(mainlib) Hexadecanoic acid, methyl ester", "tickCount": 140, "labelExpr": "datum.value % 10 === 0 ? datum.label : ''", "labelOverlap": false, "labelFlush": false, "tickSize": {"condition": {"test": "datum.value % 10 === 0", "value": 5}, "value": 3}, "labelPadding": 2, "titleX": -32, "titleY": 33.5, "titleAlign": "left", "titleBaseline": "middle"}},
   "y": {"field": "i", "type": "quantitative", "scale": {"domain": [0, 113.5], "nice": false},
     "axis": {"title": null, "values": [0, 25, 50, 75, 100], "labelExpr": "datum.value % 50 === 0 ? datum.label : ''", "tickSize": {"condition": {"test": "datum.value % 50 === 0", "value": 4}, "value": 2}, "labelPadding": 1}},
   "y2": {"datum": 0}}},
 {"data": {"name": "pal"}, "transform": [{"filter": "datum.l === 1"}], "mark": {"type": "text", "baseline": "bottom", "dy": -1, "color": "#3a3aff", "fontSize": 15},
  "encoding": {"x": {"field": "mz", "type": "quantitative"}, "y": {"field": "i", "type": "quantitative"}, "text": {"field": "mz", "type": "quantitative", "format": "d"}}},
 {"data": {"name": "s_pal"}, "mark": {"type": "rule", "color": "#111111", "strokeWidth": 1.3},
  "encoding": {"x": {"field": "x", "type": "quantitative"}, "x2": {"field": "x2"}, "y": {"field": "y", "type": "quantitative"}, "y2": {"field": "y2"}}},
 {"data": {"values": [{"x": 164.5, "y": 74.5, "t": "O"}, {"x": 170.8, "y": 38.7, "t": "O"}]}, "mark": {"type": "text", "color": "#ff2020", "fontSize": 15, "baseline": "middle", "align": "center"},
  "encoding": {"x": {"field": "x", "type": "quantitative"}, "y": {"field": "y", "type": "quantitative"}, "text": {"field": "t"}}},
 {"data": {"values": [{"mz": 270}]}, "mark": {"type": "point", "shape": "M0,0L-1,1.2L1,1.2Z", "filled": true, "color": "#000000", "size": 121, "opacity": 1},
  "encoding": {"x": {"field": "mz", "type": "quantitative"}, "y": {"datum": 0}}}
]},
{"width": 1162, "height": 139, "layer": [
 {"data": {"name": "lin"}, "mark": {"type": "rule", "color": "#ff0000", "strokeWidth": 1.4},
  "encoding": {"x": {"field": "mz", "type": "quantitative", "scale": {"domain": [14.0, 315.5], "nice": false, "zero": false},
     "axis": {"title": "(mainlib) 10,13-Octadecadienoic acid, methyl ester", "tickCount": 150, "labelExpr": "datum.value % 10 === 0 ? datum.label : ''", "labelOverlap": false, "labelFlush": false, "tickSize": {"condition": {"test": "datum.value % 10 === 0", "value": 5}, "value": 3}, "labelPadding": 2, "titleX": -32, "titleY": 33.3, "titleAlign": "left", "titleBaseline": "middle"}},
   "y": {"field": "i", "type": "quantitative", "scale": {"domain": [0, 113.5], "nice": false},
     "axis": {"title": null, "values": [0, 25, 50, 75, 100], "labelExpr": "datum.value % 50 === 0 ? datum.label : ''", "tickSize": {"condition": {"test": "datum.value % 50 === 0", "value": 4}, "value": 2}, "labelPadding": 1}},
   "y2": {"datum": 0}}},
 {"data": {"name": "lin"}, "transform": [{"filter": "datum.l === 1"}], "mark": {"type": "text", "baseline": "bottom", "dy": -1, "color": "#3a3aff", "fontSize": 15},
  "encoding": {"x": {"field": "mz", "type": "quantitative"}, "y": {"field": "i", "type": "quantitative"}, "text": {"field": "mz", "type": "quantitative", "format": "d"}}},
 {"data": {"name": "s_lin"}, "mark": {"type": "rule", "color": "#111111", "strokeWidth": 1.3},
  "encoding": {"x": {"field": "x", "type": "quantitative"}, "x2": {"field": "x2"}, "y": {"field": "y", "type": "quantitative"}, "y2": {"field": "y2"}}},
 {"data": {"values": [{"x": 151.8, "y": 74.5, "t": "O"}, {"x": 158.7, "y": 40.9, "t": "O"}]}, "mark": {"type": "text", "color": "#ff2020", "fontSize": 15, "baseline": "middle", "align": "center"},
  "encoding": {"x": {"field": "x", "type": "quantitative"}, "y": {"field": "y", "type": "quantitative"}, "text": {"field": "t"}}},
 {"data": {"values": [{"mz": 294}]}, "mark": {"type": "point", "shape": "M0,0L-1,1.2L1,1.2Z", "filled": true, "color": "#000000", "size": 121, "opacity": 1},
  "encoding": {"x": {"field": "mz", "type": "quantitative"}, "y": {"datum": 0}}}
]}
]},
{"spacing": 46.3, "vconcat": [
{"width": 1162, "height": 150, "layer": [
 {"data": {"name": "neo"}, "mark": {"type": "rule", "color": "#ff0000", "strokeWidth": 1.4},
  "encoding": {"x": {"field": "mz", "type": "quantitative", "scale": {"domain": [14.5, 294.9], "nice": false, "zero": false},
     "axis": {"title": "(mainlib) Neophytadiene", "tickCount": 140, "labelExpr": "datum.value % 10 === 0 ? datum.label : ''", "labelOverlap": false, "labelFlush": false, "tickSize": {"condition": {"test": "datum.value % 10 === 0", "value": 5}, "value": 3}, "labelPadding": 2, "titleX": -32, "titleY": 37, "titleAlign": "left", "titleBaseline": "middle"}},
   "y": {"field": "i", "type": "quantitative", "scale": {"domain": [0, 113.5], "nice": false},
     "axis": {"title": null, "values": [0, 25, 50, 75, 100], "labelExpr": "datum.value % 50 === 0 ? datum.label : ''", "tickSize": {"condition": {"test": "datum.value % 50 === 0", "value": 4}, "value": 2}, "labelPadding": 1}},
   "y2": {"datum": 0}}},
 {"data": {"name": "neo"}, "transform": [{"filter": "datum.l === 1"}], "mark": {"type": "text", "baseline": "bottom", "dy": -1, "color": "#3a3aff", "fontSize": 15},
  "encoding": {"x": {"field": "mz", "type": "quantitative"}, "y": {"field": "i", "type": "quantitative"}, "text": {"field": "mz", "type": "quantitative", "format": "d"}}},
 {"data": {"name": "s_neo"}, "mark": {"type": "rule", "color": "#111111", "strokeWidth": 1.3},
  "encoding": {"x": {"field": "x", "type": "quantitative"}, "x2": {"field": "x2"}, "y": {"field": "y", "type": "quantitative"}, "y2": {"field": "y2"}}},
 {"data": {"values": [{"mz": 278}]}, "mark": {"type": "point", "shape": "M0,0L-1,1.2L1,1.2Z", "filled": true, "color": "#000000", "size": 121, "opacity": 1},
  "encoding": {"x": {"field": "mz", "type": "quantitative"}, "y": {"datum": 0}}}
]},
{"width": 1162, "height": 168, "layer": [
 {"data": {"name": "ste"}, "mark": {"type": "rule", "color": "#ff0000", "strokeWidth": 1.4},
  "encoding": {"x": {"field": "mz", "type": "quantitative", "scale": {"domain": [3.8, 315.7], "nice": false, "zero": false},
     "axis": {"title": "(mainlib) Methyl stearate", "tickCount": 155, "labelExpr": "datum.value % 10 === 0 ? datum.label : ''", "labelOverlap": false, "labelFlush": false, "tickSize": {"condition": {"test": "datum.value % 10 === 0", "value": 5}, "value": 3}, "labelPadding": 2, "titleX": -32, "titleY": 41, "titleAlign": "left", "titleBaseline": "middle"}},
   "y": {"field": "i", "type": "quantitative", "scale": {"domain": [0, 113.5], "nice": false},
     "axis": {"title": null, "values": [0, 25, 50, 75, 100], "labelExpr": "datum.value % 50 === 0 ? datum.label : ''", "tickSize": {"condition": {"test": "datum.value % 50 === 0", "value": 4}, "value": 2}, "labelPadding": 1}},
   "y2": {"datum": 0}}},
 {"data": {"name": "ste"}, "transform": [{"filter": "datum.l === 1"}], "mark": {"type": "text", "baseline": "bottom", "dy": -1, "color": "#3a3aff", "fontSize": 15},
  "encoding": {"x": {"field": "mz", "type": "quantitative"}, "y": {"field": "i", "type": "quantitative"}, "text": {"field": "mz", "type": "quantitative", "format": "d"}}},
 {"data": {"name": "s_ste"}, "mark": {"type": "rule", "color": "#111111", "strokeWidth": 1.3},
  "encoding": {"x": {"field": "x", "type": "quantitative"}, "x2": {"field": "x2"}, "y": {"field": "y", "type": "quantitative"}, "y2": {"field": "y2"}}},
 {"data": {"values": [{"x": 271.5, "y": 74.8, "t": "O"}, {"x": 277.8, "y": 41.0, "t": "O"}]}, "mark": {"type": "text", "color": "#ff2020", "fontSize": 15, "baseline": "middle", "align": "center"},
  "encoding": {"x": {"field": "x", "type": "quantitative"}, "y": {"field": "y", "type": "quantitative"}, "text": {"field": "t"}}},
 {"data": {"values": [{"mz": 298}]}, "mark": {"type": "point", "shape": "M0,0L-1,1.2L1,1.2Z", "filled": true, "color": "#000000", "size": 121, "opacity": 1},
  "encoding": {"x": {"field": "mz", "type": "quantitative"}, "y": {"datum": 0}}}
]}
]}
],
"config": {
 "view": {"stroke": null},
 "axis": {"grid": false, "domainColor": "#000000", "tickColor": "#000000", "domainWidth": 1, "tickWidth": 1, "labelColor": "#2a2a2a", "labelFont": "Liberation Sans", "labelFontSize": 15, "titleFont": "Liberation Sans", "titleFontSize": 14, "titleFontWeight": "normal", "titleColor": "#4848c8"},
 "text": {"font": "Liberation Sans"}
}
}
